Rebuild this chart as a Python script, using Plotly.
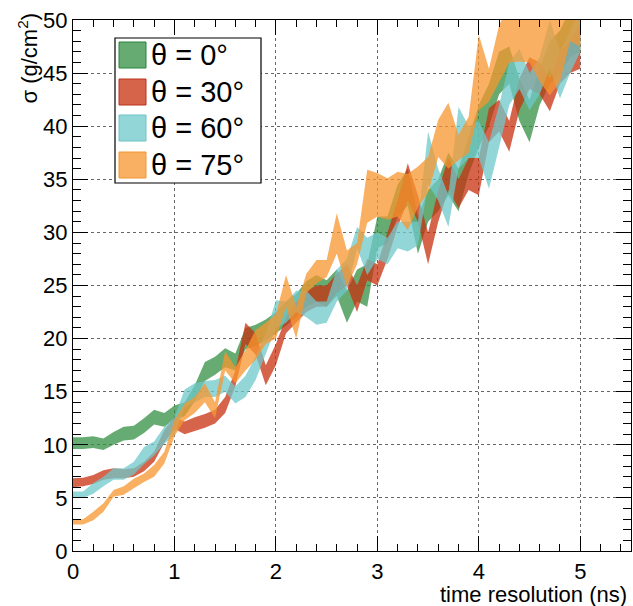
import plotly.graph_objects as go

# ---- data ----
time_res = [round(0.1 * i, 1) for i in range(51)]

green_lo = [9.6, 9.6, 9.7, 9.5, 10.0, 10.4, 10.5, 11.1, 11.9, 11.7, 12.4, 12.7, 14.1, 16.0, 16.6, 17.3, 17.0, 19.0, 19.3, 19.8,
            20.5, 21.2, 22.0, 23.0, 23.5, 23.0, 24.0, 21.5, 23.5, 23.0, 28.5, 29.0, 31.5, 32.5, 28.0, 31.0, 32.0, 33.5, 32.0, 35.5,
            38.0, 40.0, 43.0, 44.0, 40.5, 38.5, 42.0, 44.0, 45.0, 46.5, 47.0]
green_hi = [10.7, 10.7, 10.8, 10.6, 11.2, 11.7, 11.8, 12.5, 13.3, 13.0, 13.7, 14.0, 15.6, 17.8, 18.3, 19.1, 18.6, 21.0, 21.3, 21.8,
            22.5, 23.5, 24.2, 25.4, 26.0, 25.5, 26.5, 24.5, 26.5, 27.0, 31.5, 31.5, 34.5, 36.0, 31.5, 34.0, 35.0, 37.5, 36.0, 39.0,
            42.0, 44.0, 47.0, 47.5, 44.5, 42.5, 45.5, 48.0, 49.0, 51.0, 52.0]

red_lo = [6.0, 6.1, 6.3, 6.7, 6.85, 6.85, 7.0, 7.5, 8.4, 10.2, 11.5, 11.0, 11.3, 11.6, 12.0, 13.0, 15.5, 19.5, 18.5, 15.6,
          17.5, 20.5, 21.5, 22.5, 23.0, 23.0, 24.3, 25.0, 22.5, 25.5, 25.0, 27.5, 30.5, 33.0, 31.0, 27.0, 31.0, 34.0, 32.3, 34.0,
          33.5, 38.5, 39.5, 37.6, 41.5, 43.5, 43.0, 41.4, 44.0, 45.0, 45.4]
red_hi = [6.85, 6.9, 7.15, 7.6, 7.8, 7.7, 7.8, 8.4, 9.35, 11.4, 12.6, 12.2, 12.6, 12.9, 13.3, 14.5, 17.0, 21.5, 20.5, 17.5,
          19.5, 22.0, 23.5, 24.5, 25.0, 25.0, 26.1, 27.0, 25.0, 27.5, 27.0, 30.0, 33.0, 36.5, 33.5, 30.0, 34.0, 37.0, 35.0, 37.0,
          37.0, 41.7, 42.5, 40.5, 44.5, 46.5, 46.0, 44.5, 47.0, 48.0, 49.5]

cyan_lo = [5.0, 5.0, 5.4, 6.1, 6.7, 6.7, 7.2, 8.2, 9.0, 10.1, 10.9, 13.5, 14.0, 14.5, 14.5, 15.0, 13.9, 14.5, 16.1, 18.5,
           21.0, 21.5, 22.5, 22.0, 21.3, 21.5, 23.5, 24.5, 28.5, 26.0, 27.5, 27.0, 28.5, 28.2, 28.8, 34.5, 33.0, 30.5, 36.0, 37.0,
           37.0, 34.1, 38.0, 42.0, 43.5, 41.5, 43.0, 45.5, 42.6, 45.0, 47.0]
cyan_hi = [5.6, 5.6, 6.4, 7.0, 7.8, 7.8, 8.4, 9.8, 10.3, 11.7, 12.6, 15.2, 15.8, 16.0, 16.1, 16.5, 15.5, 16.5, 18.3, 20.5,
           23.6, 23.5, 24.5, 24.5, 23.5, 23.5, 26.5, 27.5, 30.5, 29.5, 30.0, 29.5, 31.0, 31.0, 31.0, 39.5, 36.0, 33.5, 41.8, 40.0,
           40.5, 38.5, 42.0, 46.0, 47.3, 45.0, 46.5, 50.0, 47.0, 49.0, 51.0]

orange_lo = [2.5, 2.5, 2.9, 3.7, 5.1, 5.3, 5.9, 6.5, 7.0, 8.25, 10.8, 12.3, 13.0, 14.0, 12.5, 17.0, 15.8, 17.0, 18.0, 19.5,
             20.0, 23.0, 20.0, 24.3, 25.2, 25.8, 28.0, 24.9, 27.0, 30.9, 31.5, 31.2, 31.5, 30.2, 32.4, 33.7, 37.1, 36.0, 36.8, 37.5,
             41.5, 42.3, 44.2, 46.0, 46.1, 46.0, 44.2, 42.9, 44.2, 48.0, 47.5]
orange_hi = [3.0, 3.0, 3.7, 4.5, 5.75, 6.1, 6.8, 7.3, 8.1, 9.35, 12.3, 13.9, 14.5, 15.8, 14.0, 18.8, 17.3, 18.9, 20.8, 21.5,
             22.3, 26.0, 23.0, 26.1, 27.4, 27.4, 31.8, 28.3, 29.0, 35.9, 35.6, 35.1, 35.7, 35.5, 36.2, 37.1, 40.6, 42.2, 39.2, 40.9,
             48.6, 45.4, 49.5, 51.5, 52.0, 52.0, 51.0, 50.0, 52.0, 53.0, 53.0]

series_names = ["θ = 0°", "θ = 30°", "θ = 60°", "θ = 75°"]
x_ticks = [0, 1, 2, 3, 4, 5]
y_ticks = [0, 5, 10, 15, 20, 25, 30, 35, 40, 45, 50]

# ---- style ----
fills = ["rgba(51,143,67,0.75)", "rgba(200,48,15,0.75)", "rgba(111,200,203,0.75)", "rgba(247,150,46,0.75)"]
edges = ["rgb(40,130,60)", "rgb(190,50,30)", "rgb(110,195,200)", "rgb(240,150,50)"]
bands = [(green_lo, green_hi), (red_lo, red_hi), (cyan_lo, cyan_hi), (orange_lo, orange_hi)]

W, H = 633, 606
ML, MR, MT, MB = 73, 2, 20, 55
PW, PH = W - ML - MR, H - MT - MB


def px2paper(px, py):
    return (px - ML) / PW, (H - MB - py) / PH


fig = go.Figure()
for name, (lo, hi), fc in zip(series_names, bands, fills):
    fig.add_trace(go.Scatter(
        x=time_res + time_res[::-1],
        y=hi + lo[::-1],
        fill="toself", fillcolor=fc,
        mode="lines", line=dict(width=0, color=fc),
        name=name, showlegend=False, hoverinfo="skip",
    ))

font_family = "Liberation Sans, Arial, Helvetica, sans-serif"

axis_common = dict(
    showline=True, linecolor="black", linewidth=1.2, mirror="ticks",
    ticks="inside", tickcolor="black", tickwidth=1.2, ticklen=15,
    showgrid=True, gridcolor="rgba(0,0,0,0.6)", griddash="dot", gridwidth=1,
    zeroline=False, automargin=False,
    tickfont=dict(family=font_family, size=22, color="black"),
)

fig.update_xaxes(range=[0, 5.5], tickvals=x_ticks, ticktext=[str(v) for v in x_ticks],
                 minor=dict(dtick=0.2, tick0=0, ticklen=7, ticks="inside", tickcolor="black", showgrid=False),
                 **axis_common)
fig.update_yaxes(range=[0, 50], tickvals=y_ticks, ticktext=[str(v) for v in y_ticks],
                 minor=dict(dtick=1, tick0=0, ticklen=8, ticks="inside", tickcolor="black", showgrid=False),
                 **axis_common)

annotations = [
    dict(text="time resolution (ns)", xref="paper", yref="paper", x=1, y=0,
         xanchor="right", yanchor="top", xshift=-2, yshift=-29, showarrow=False,
         font=dict(family=font_family, size=22, color="black")),
    dict(text="σ (g/cm<sup>2</sup>)", xref="paper", yref="paper", x=0, y=1,
         xanchor="center", yanchor="top", xshift=-46, yshift=9, textangle=-90, showarrow=False,
         font=dict(family=font_family, size=22, color="black")),
]

shapes = []
# legend box
x0, y0 = px2paper(115, 183)
x1, y1 = px2paper(261, 38)
shapes.append(dict(type="rect", xref="paper", yref="paper", x0=x0, y0=y0, x1=x1, y1=y1,
                   fillcolor="white", line=dict(color="black", width=1.2), layer="above"))
sw_tops = [42, 79, 115, 152]
for name, top, fc, ec in zip(series_names, sw_tops, fills, edges):
    a0, b0 = px2paper(119, top + 26)
    a1, b1 = px2paper(146, top)
    shapes.append(dict(type="rect", xref="paper", yref="paper", x0=a0, y0=b0, x1=a1, y1=b1,
                       fillcolor=fc, line=dict(color=ec, width=1), layer="above"))
    tx, ty = px2paper(149, top + 13)
    annotations.append(dict(text=name, xref="paper", yref="paper", x=tx, y=ty,
                            xanchor="left", yanchor="middle", showarrow=False,
                            font=dict(family=font_family, size=29, color="black")))

fig.update_layout(
    width=W, height=H,
    margin=dict(l=ML, r=MR, t=MT, b=MB, autoexpand=False),
    paper_bgcolor="white", plot_bgcolor="white",
    showlegend=False,
    annotations=annotations, shapes=shapes,
)

fig.write_html("out.html", config={"displayModeBar": False},
               post_script="document.body.style.margin='0';document.body.style.padding='0';")
